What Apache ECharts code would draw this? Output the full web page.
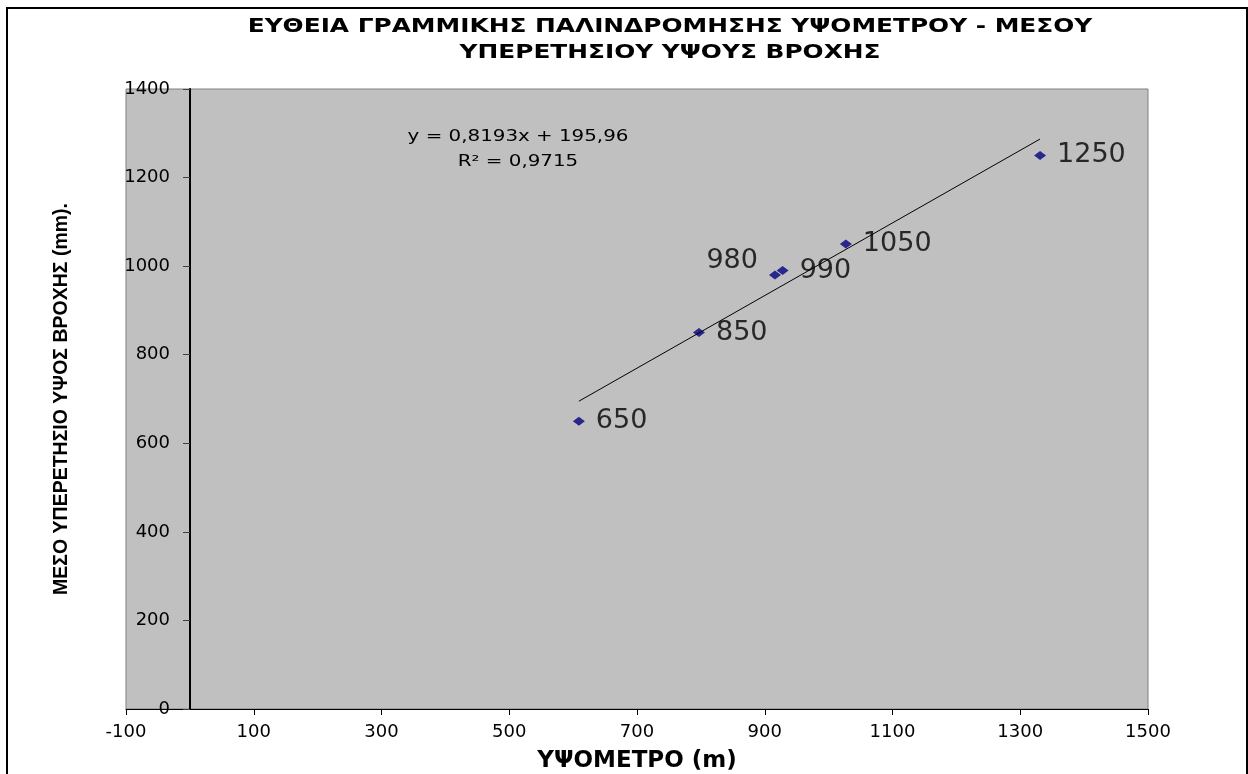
<!DOCTYPE html>
<html>
<head>
<meta charset="utf-8">
<script src="https://cdn.jsdelivr.net/npm/echarts@6/dist/echarts.min.js"></script>
<style>
    html, body { margin: 0; padding: 0; background: #fff; }
    #chart { width: 1248px; height: 774px; }
</style>
</head>
<body>
<div id="chart"></div>
<script>
// υψόμετρο σταθμών (m) και μέσο υπερετήσιο ύψος βροχής (mm)
var altitude = [609, 797, 916, 928, 1027, 1331];
var rainfall = [650, 850, 980, 990, 1050, 1250];

// άκρα της ευθείας παλινδρόμησης, όπως φαίνονται στο γράφημα
var trendX = [609, 1331];
var trendY = [695, 1287];

var titleLines = ["ΕΥΘΕΙΑ ΓΡΑΜΜΙΚΗΣ ΠΑΛΙΝΔΡΟΜΗΣΗΣ ΥΨΟΜΕΤΡΟΥ - ΜΕΣΟΥ", "ΥΠΕΡΕΤΗΣΙΟΥ ΥΨΟΥΣ ΒΡΟΧΗΣ"];
var equationLines = ["y = 0,8193x + 195,96", "R² = 0,9715"];
var xName = "ΥΨΟΜΕΤΡΟ (m)";
var yName = "ΜΕΣΟ ΥΠΕΡΕΤΗΣΙΟ ΥΨΟΣ ΒΡΟΧΗΣ (mm).";

var chart = echarts.init(document.getElementById("chart"));

var points = altitude.map(function(x, i) {
    var item = { value: [x, rainfall[i]] };
    if (rainfall[i] === 980) { // η ετικέτα αυτή είναι αριστερά
        item.label = { position: "left", offset: [0, -14] };
    }
    return item;
});

// κείμενο τοποθετημένο με το χέρι (τίτλος, εξίσωση), λίγο τεντωμένο οριζόντια
function textEl(str, x, y, font, sx) {
    return {
        type: "text",
        x: x, y: y, z: 100,
        scaleX: sx,
        style: { text: str, align: "center", verticalAlign: "middle", font: font, fill: "#000" }
    };
}

var option = {
    backgroundColor: "#fff",
    animation: false,
    textStyle: { fontFamily: "DejaVu Sans" },
    grid: {
        left: 126,
        right: 100,
        top: 89,
        bottom: 65,
        outerBoundsMode: "none",
        containLabel: false,
        show: true,
        backgroundColor: "#C0C0C0",
        borderColor: "#808080",
        borderWidth: 1
    },
    graphic: [
        { // περίγραμμα
            type: "rect",
            shape: { x: 7, y: 8, width: 1240, height: 790 },
            style: { fill: null, stroke: "#000", lineWidth: 2 },
            silent: true
        },
        textEl(titleLines[0], 670, 27, "bold 20px 'DejaVu Sans'", 1.24),
        textEl(titleLines[1], 670, 53, "bold 20px 'DejaVu Sans'", 1.24),
        textEl(equationLines[0], 518, 137, "16px 'DejaVu Sans'", 1.24),
        textEl(equationLines[1], 518, 162, "16px 'DejaVu Sans'", 1.24)
    ],
    xAxis: {
        type: "value",
        min: -100,
        max: 1500,
        interval: 200,
        name: xName,
        nameLocation: "middle",
        nameGap: 41,
        nameTextStyle: { fontFamily: "DejaVu Sans", fontWeight: "bold", fontSize: 23, color: "#000" },
        axisLine: { lineStyle: { color: "#000", width: 1 } },
        axisTick: { length: 6, lineStyle: { color: "#000" } },
        axisLabel: { fontSize: 18, color: "#000", margin: 14, formatter: function(v) { return String(v); } },
        splitLine: { show: false }
    },
    yAxis: {
        type: "value",
        min: 0,
        max: 1400,
        interval: 200,
        position: "left",
        offset: -64, // ο άξονας περνά από το x = 0
        name: yName,
        nameLocation: "middle",
        nameGap: 118,
        nameTextStyle: { fontFamily: "Liberation Sans", fontWeight: "bold", fontSize: 19.5, color: "#000" },
        axisLine: { onZero: false, lineStyle: { color: "#000", width: 2 } },
        axisTick: { length: 7, lineStyle: { color: "#404040" } },
        axisLabel: { fontSize: 18, color: "#000", margin: 20, formatter: function(v) { return String(v); } },
        splitLine: { show: false }
    },
    series: [
        {
            type: "line",
            data: trendX.map(function(x, i) { return [x, trendY[i]]; }),
            showSymbol: false,
            lineStyle: { color: "#000", width: 1 },
            silent: true
        },
        {
            type: "scatter",
            data: points,
            symbol: "diamond",
            symbolSize: [12, 9],
            itemStyle: { color: "#000080" },
            label: {
                show: true,
                position: "right",
                distance: 11,
                fontSize: 27,
                color: "#000",
                formatter: function(p) { return p.value[1]; }
            }
        }
    ]
};

chart.setOption(option);
</script>
</body>
</html>
